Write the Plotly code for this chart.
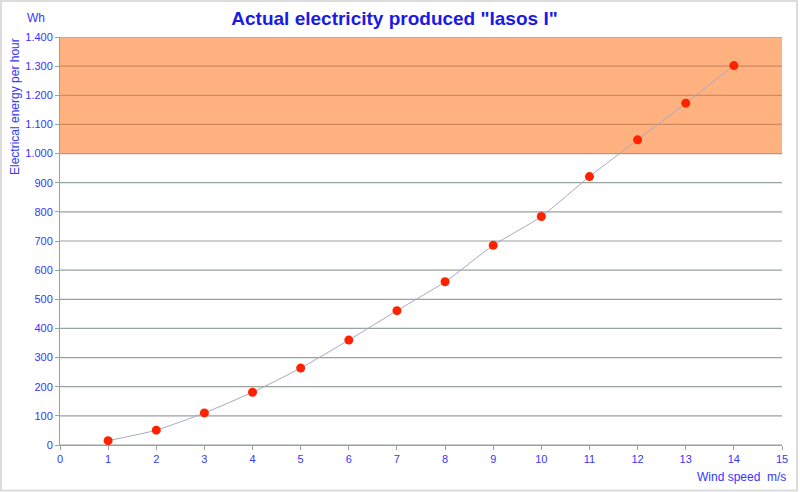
import plotly.graph_objects as go

wind_speed = [1, 2, 3, 4, 5, 6, 7, 8, 9, 10, 11, 12, 13, 14]
energy_wh = [15, 51, 110, 181, 264, 360, 461, 560, 685, 784, 921, 1047, 1173, 1302]
x_ticks = list(range(0, 16))
y_ticks = list(range(0, 1401, 100))
band_range = [1000, 1400]

W, H = 800, 492
L, R, T, B = 60, 18, 37, 47
PW, PH = W - L - R, H - T - B

fig = go.Figure()
fig.add_trace(go.Scatter(
    x=wind_speed, y=energy_wh, mode="lines+markers",
    line=dict(color="#A8A8C4", width=1, shape="spline", smoothing=0.6),
    marker=dict(color="#FF2200", size=9),
    showlegend=False, hoverinfo="x+y",
))

axis_col = "#98A29E"
band_grid_col = "#CC8C60"
fig.update_layout(
    width=W, height=H,
    margin=dict(l=L, r=R, t=T, b=B),
    paper_bgcolor="white", plot_bgcolor="white",
    separators=",.",
    font=dict(family="Liberation Sans, Arial, sans-serif", size=11, color="#3535FF"),
    title=dict(text='Actual electricity produced "Iasos I"', x=394.5 / W, xanchor="center",
               y=1 - 18 / H, yanchor="middle",
               font=dict(size=19, color="#1A1AE8", family="Liberation Sans, Arial, sans-serif", weight="bold")),
    xaxis=dict(range=[0, 15], tickvals=x_ticks, showgrid=False, zeroline=False,
               showline=True, linecolor=axis_col, linewidth=1,
               ticks="outside", ticklen=4, tickcolor=axis_col),
    yaxis=dict(range=[0, 1400], tickvals=y_ticks, separatethousands=True,
               showgrid=False, zeroline=False,
               showline=True, linecolor=axis_col, linewidth=1,
               ticks="outside", ticklen=4, tickcolor=axis_col),
)

# orange band
fig.add_shape(type="rect", xref="paper", yref="y", x0=0, x1=1,
              y0=band_range[0], y1=band_range[1],
              fillcolor="#FFB27F", line=dict(width=0), layer="below")

# horizontal gridlines at the y ticks (tinted inside the band)
for v in y_ticks:
    inside = band_range[0] < v < band_range[1]
    fig.add_shape(type="line", xref="paper", yref="y", x0=0, x1=1, y0=v, y1=v,
                  line=dict(color=band_grid_col if inside else axis_col, width=1.2),
                  layer="below")

fig.add_shape(type="rect", xref="paper", yref="paper",
              x0=-(L - 1) / PW, x1=(797 - L) / PW,
              y0=-(490.5 - (T + PH)) / PH, y1=1 + (T - 1) / PH,
              line=dict(color="#DCDCDC", width=2), fillcolor="rgba(0,0,0,0)", layer="below")

fig.add_annotation(text="Electrical energy per hour", textangle=-90,
                   xref="paper", yref="paper", x=(15 - L) / PW, y=1 - (107 - T) / PH,
                   xanchor="center", yanchor="middle", showarrow=False,
                   font=dict(size=12, color="#3535FF"))
fig.add_annotation(text="Wh", xref="paper", yref="paper", x=(36 - L) / PW, y=1 + (T - 18) / PH,
                   xanchor="center", yanchor="middle", showarrow=False,
                   font=dict(size=12, color="#3535FF"))
fig.add_annotation(text="Wind speed  m/s", xref="paper", yref="paper", x=(788 - L) / PW,
                   y=-(477 - (T + PH)) / PH, xanchor="right", yanchor="middle", showarrow=False,
                   font=dict(size=12, color="#3535FF"))

fig.write_html("out.html", config={"displayModeBar": False},
               post_script="document.body.style.margin='0';")
